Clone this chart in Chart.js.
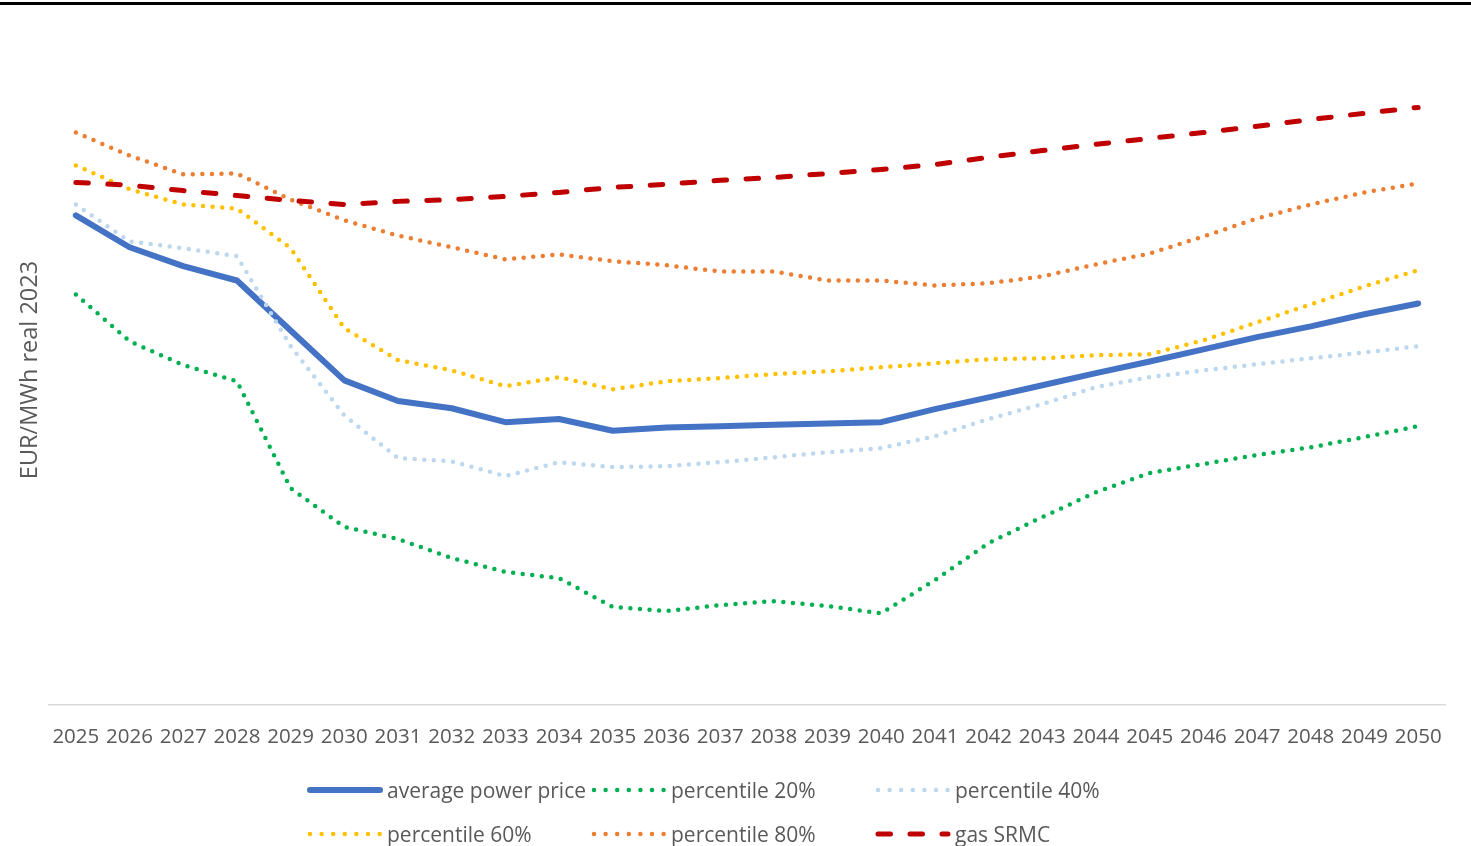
<!DOCTYPE html>
<html lang="en">
<head>
    <meta charset="UTF-8">
    <title>Power price outlook</title>
    <script src="https://cdn.jsdelivr.net/npm/chart.js"></script>
    <style>
        body { margin: 0; background: #fff; }
        #wrap { position: relative; width: 1471px; height: 846px; overflow: hidden; font-family: "Open Sans", sans-serif; }
        #topRule { position: absolute; left: 0; top: 2px; width: 100%; height: 3px; background: #000; }
        #chart { position: absolute; left: 0; top: 0; }
        #legend {
            position: absolute; left: 307px; top: 768px;
            display: grid; grid-template-columns: 284px 284px 284px; grid-auto-rows: 44px;
            color: #595959; font-size: 21px;
        }
        .item { display: flex; align-items: center; white-space: nowrap; }
        .item canvas { margin-right: 4px; }
    </style>
</head>
<body>
<div id="wrap">
    <div id="topRule"></div>
    <canvas id="chart" width="1471" height="846"></canvas>
    <div id="legend"></div>
</div>
<script>
    // years on the x axis
    var years = ['2025', '2026', '2027', '2028', '2029', '2030', '2031', '2032', '2033', '2034', '2035', '2036', '2037',
        '2038', '2039', '2040', '2041', '2042', '2043', '2044', '2045', '2046', '2047', '2048', '2049', '2050'];

    // EUR/MWh (no axis scale shown)
    var avgPrice = [108.9, 101.8, 97.6, 94.4, 83.3, 72.2, 67.6, 66.0, 62.9, 63.6, 61.0, 61.7, 62.0,
        62.3, 62.6, 62.9, 65.8, 68.4, 71.1, 73.8, 76.4, 79.1, 81.8, 84.2, 86.9, 89.3];
    var p20 = [91.3, 80.9, 75.6, 72.0, 48.2, 39.6, 36.9, 32.7, 29.6, 28.2, 21.8, 20.9, 22.2,
        23.1, 22.0, 20.4, 27.8, 36.0, 41.8, 47.3, 51.6, 53.6, 55.6, 57.3, 59.6, 62.0];
    var p40 = [111.3, 103.1, 101.6, 99.8, 79.8, 64.4, 54.9, 54.2, 50.9, 54.0, 52.9, 53.1, 54.0,
        55.1, 56.2, 57.1, 59.8, 63.6, 66.9, 70.7, 72.9, 74.4, 75.8, 77.1, 78.4, 79.8];
    var p60 = [120.0, 114.7, 111.3, 110.4, 101.6, 83.8, 76.7, 74.4, 70.9, 72.9, 70.2, 72.0, 72.7,
        73.6, 74.2, 75.1, 76.0, 76.9, 77.1, 77.8, 78.0, 81.1, 85.1, 89.1, 93.1, 96.7];
    var p80 = [127.3, 122.2, 118.0, 118.2, 112.4, 107.8, 104.4, 101.8, 99.1, 100.2, 98.7, 97.8, 96.4,
        96.4, 94.4, 94.4, 93.3, 93.8, 95.3, 98.0, 100.4, 104.2, 108.2, 111.3, 114.0, 116.0];
    var gasSrmc = [116.2, 115.6, 114.4, 113.3, 112.2, 111.3, 112.0, 112.4, 113.1, 114.0, 115.1, 115.8, 116.7,
        117.3, 118.2, 119.1, 120.2, 121.8, 123.3, 124.7, 126.0, 127.3, 128.7, 130.2, 131.6, 132.9];

    var textColor = '#595959';
    var dotted = [0, 9.6];

    function line(label, data, color, width, dash, order) {
        return {
            label: label,
            data: data,
            borderColor: color,
            backgroundColor: color,
            borderWidth: width,
            borderDash: dash,
            borderCapStyle: 'round',
            borderJoinStyle: 'round',
            pointRadius: 0,
            tension: 0,
            fill: false,
            order: order
        };
    }

    var ctx = document.getElementById('chart').getContext('2d');
    var chart = new Chart(ctx, {
        type: 'line',
        data: {
            labels: years,
            datasets: [
                line('average power price', avgPrice, '#4472C4', 6, [], 6),
                line('percentile 20%', p20, '#00B050', 4.5, dotted, 5),
                line('percentile 40%', p40, '#BDD7EE', 4.5, dotted, 4),
                line('percentile 60%', p60, '#FFC000', 4.5, dotted, 3),
                line('percentile 80%', p80, '#ED7D31', 4.5, dotted, 2),
                line('gas SRMC', gasSrmc, '#C00000', 5, [12.5, 19.5], 1)
            ]
        },
        options: {
            responsive: false,
            animation: false,
            layout: { padding: { top: 35, left: 14, right: 26, bottom: 0 } },
            plugins: {
                legend: { display: false },
                tooltip: { enabled: false }
            },
            scales: {
                x: {
                    offset: true,
                    grid: { display: false, drawTicks: false },
                    border: { display: true, color: '#D9D9D9', width: 1.5 },
                    ticks: {
                        color: textColor,
                        font: { family: 'Open Sans', size: 20.5 },
                        padding: 20,
                        maxRotation: 0,
                        autoSkip: false
                    },
                    afterFit: function (scale) { scale.height = 141; }
                },
                y: {
                    min: 0,
                    max: 149,
                    grid: { display: false, drawTicks: false },
                    border: { display: false },
                    ticks: { display: false },
                    title: {
                        display: true,
                        text: 'EUR/MWh real 2023',
                        color: textColor,
                        font: { family: 'Open Sans', size: 23.5, weight: 'normal' },
                        padding: { top: 2, bottom: 0 }
                    },
                    afterFit: function (scale) { scale.width = 35; }
                }
            }
        }
    });

    // legend in Excel's 3-column grid, samples drawn from each dataset's style
    var legendEl = document.getElementById('legend');
    chart.data.datasets.forEach(function (ds) {
        var item = document.createElement('div');
        item.className = 'item';
        var c = document.createElement('canvas');
        c.width = 76; c.height = 20;
        var g = c.getContext('2d');
        g.strokeStyle = ds.borderColor;
        g.lineWidth = ds.borderWidth;
        g.lineCap = 'round';
        var dash = ds.borderDash.length && ds.borderDash[0] === 0 ? [0, 11.6] : ds.borderDash;
        g.setLineDash(dash);
        g.beginPath();
        g.moveTo(3, 10);
        g.lineTo(73, 10);
        g.stroke();
        item.appendChild(c);
        var span = document.createElement('span');
        span.textContent = ds.label;
        item.appendChild(span);
        legendEl.appendChild(item);
    });
</script>
</body>
</html>
